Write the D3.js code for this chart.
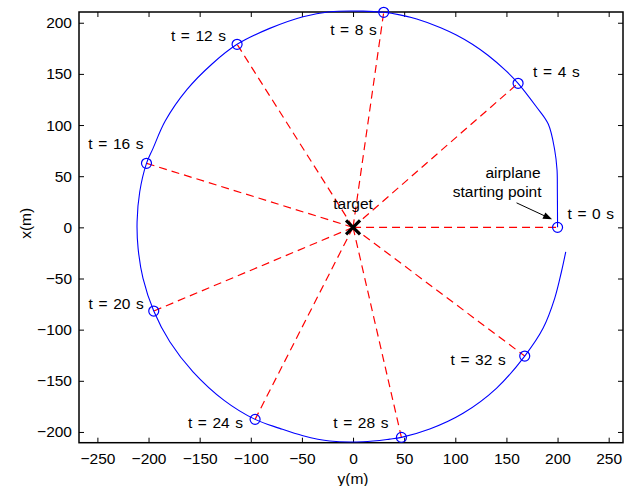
<!DOCTYPE html>
<html>
<head>
<meta charset="utf-8">
<script src="https://cdn.jsdelivr.net/npm/d3@7/dist/d3.min.js"></script>
<style>
  html, body { margin: 0; padding: 0; background: #fff; }
  svg { display: block; }
  text { font-family: "Liberation Sans", Arial, Helvetica, sans-serif; fill: #000; }
</style>
</head>
<body>
<svg id="chart" width="625" height="486"></svg>
<script>
// ---------------- DATA ----------------
// Trajectory samples: horizontal coordinate y(m) and vertical coordinate x(m)
const pathY = [200, 199.8, 199.5, 197.2, 190.9, 178.7, 161.4, 149.4, 131.9, 116.7, 101, 85.7, 62.3, 45.7, 30, 9.8, -22.8, -48.9, -81.5, -113.4, -137.9, -162.3, -183.7, -195.6, -202, -208.6, -211.2, -210.2, -205.4, -194.9, -179.2, -156.5, -126.1, -95.8, -71.7, -48.9, -22.8, 9.8, 35.9, 47.3, 75, 107.6, 140.2, 167.9, 185.8, 197.2, 203.8, 208];
const pathX = [0, 36.5, 56, 75.6, 101, 118.6, 140.8, 153.2, 168.2, 179, 188, 195.2, 203.7, 207.7, 210.2, 211.4, 210.8, 205.9, 194.5, 178.9, 159.7, 134.8, 103.9, 77.2, 62.6, 34.8, 5.5, -20.5, -49.9, -81.8, -111.8, -141.2, -169.1, -187.7, -196.5, -203.7, -208.9, -209.6, -207, -205.3, -197.2, -181.8, -157.4, -125.8, -98.7, -69.4, -43.4, -23.9];

// Sampled positions every 4 s
const sampleT = [0, 4, 8, 12, 16, 20, 24, 28, 32];
const sampleY = [200, 161.4, 30, -113.4, -202, -194.9, -95.8, 47.3, 167.9];
const sampleX = [0, 140.8, 210.2, 178.9, 62.6, -81.8, -187.7, -205.3, -125.8];

// Target location
const targetY = 0;
const targetX = 0;

// Tick labels
const xTicks = [-250, -200, -150, -100, -50, 0, 50, 100, 150, 200, 250];
const yTicks = [-200, -150, -100, -50, 0, 50, 100, 150, 200];

// Axis limits
const xDomain = [-268, 264];
const yDomain = [-210.5, 210.5];

// ---------------- LAYOUT ----------------
const L = 79, R = 623, T = 12, B = 442.7;
const svg = d3.select("#chart");
const sx = d3.scaleLinear().domain(xDomain).range([L, R]);
const sy = d3.scaleLinear().domain(yDomain).range([B, T]);
const FS = 15.5;

// label offsets (px) relative to each sample point
const labelOff = [
  {dx: 10, dy: -14, a: "start"},
  {dx: 15, dy: -12, a: "start"},
  {dx: -7, dy: 17, a: "end"},
  {dx: -11, dy: -9, a: "end"},
  {dx: -3, dy: -20, a: "end"},
  {dx: -10, dy: -8, a: "end"},
  {dx: -12, dy: 3, a: "end"},
  {dx: -13, dy: -15, a: "end"},
  {dx: -19, dy: 3, a: "end"}
];

svg.append("defs").append("clipPath").attr("id", "clip")
  .append("rect").attr("x", L).attr("y", T - 8).attr("width", R - L).attr("height", B - T + 8);

// Axes (ticks inside, MATLAB style)
const tickLen = 5;
const xAxisB = d3.axisBottom(sx).tickValues(xTicks).tickSizeInner(-tickLen).tickSizeOuter(0).tickPadding(10);
const xAxisT = d3.axisTop(sx).tickValues(xTicks).tickSizeInner(-tickLen).tickSizeOuter(0).tickFormat("");
const yAxisL = d3.axisLeft(sy).tickValues(yTicks).tickSizeInner(-tickLen).tickSizeOuter(0).tickPadding(7);
const yAxisR = d3.axisRight(sy).tickValues(yTicks).tickSizeInner(-tickLen).tickSizeOuter(0).tickFormat("");

function styleAxis(g) {
  g.select(".domain").remove();
  g.selectAll(".tick line").attr("stroke", "#000").attr("stroke-width", 1);
  g.selectAll(".tick text").style("font-size", FS + "px").attr("fill", "#000")
    .style("font-family", '"Liberation Sans", Arial, sans-serif');
}
svg.append("g").attr("transform", `translate(0,${B})`).call(xAxisB).call(styleAxis);
svg.append("g").attr("transform", `translate(0,${T})`).call(xAxisT).call(styleAxis);
svg.append("g").attr("transform", `translate(${L},0)`).call(yAxisL).call(styleAxis);
svg.append("g").attr("transform", `translate(${R},0)`).call(yAxisR).call(styleAxis);

// Box
svg.append("rect").attr("x", L).attr("y", T).attr("width", R - L).attr("height", B - T)
  .attr("fill", "none").attr("stroke", "#000").attr("stroke-width", 1.5);

const plot = svg.append("g").attr("clip-path", "url(#clip)");

// Dashed lines from target to samples
plot.selectAll("line.ray").data(sampleT).enter().append("line")
  .attr("class", "ray")
  .attr("x1", sx(targetY)).attr("y1", sy(targetX))
  .attr("x2", (d, i) => sx(sampleY[i])).attr("y2", (d, i) => sy(sampleX[i]))
  .attr("stroke", "#ff0000").attr("stroke-width", 1.2).attr("stroke-dasharray", "8,5");

// Trajectory
const pts = pathY.map((v, i) => [v, pathX[i]]);
plot.append("path").datum(pts)
  .attr("d", d3.line().x(d => sx(d[0])).y(d => sy(d[1])).curve(d3.curveCatmullRom.alpha(0.5)))
  .attr("fill", "none").attr("stroke", "#0000ff").attr("stroke-width", 1.1);

// Sample circles
plot.selectAll("circle.s").data(sampleT).enter().append("circle")
  .attr("class", "s")
  .attr("cx", (d, i) => sx(sampleY[i])).attr("cy", (d, i) => sy(sampleX[i]))
  .attr("r", 5).attr("fill", "none").attr("stroke", "#0000ff").attr("stroke-width", 1.2);

// Target X marker
const tx = sx(targetY), ty = sy(targetX), ms = 7;
svg.append("path")
  .attr("d", `M${tx - ms},${ty - ms}L${tx + ms},${ty + ms}M${tx - ms},${ty + ms}L${tx + ms},${ty - ms}`)
  .attr("stroke", "#000").attr("stroke-width", 3.2).attr("fill", "none");

// Time labels
svg.selectAll("text.tl").data(sampleT).enter().append("text")
  .attr("class", "tl")
  .attr("x", (d, i) => sx(sampleY[i]) + labelOff[i].dx)
  .attr("y", (d, i) => sy(sampleX[i]) + labelOff[i].dy)
  .attr("dy", "0.36em")
  .attr("text-anchor", (d, i) => labelOff[i].a)
  .style("font-size", FS + "px")
  .style("word-spacing", "1.3px")
  .text(d => `t = ${d} s`);

// Target label
svg.append("text").attr("x", tx).attr("y", ty - 24).attr("dy", "0.36em")
  .attr("text-anchor", "middle").style("font-size", FS + "px").text("target");

// Airplane starting point annotation
const sp0x = sx(sampleY[0]), sp0y = sy(sampleX[0]);
svg.append("text").attr("x", sp0x - 17).attr("y", sp0y - 55).attr("dy", "0.36em")
  .attr("text-anchor", "end").style("font-size", FS + "px").text("airplane");
svg.append("text").attr("x", sp0x - 16).attr("y", sp0y - 35.6).attr("dy", "0.36em")
  .attr("text-anchor", "end").style("font-size", FS + "px").text("starting point");

// Arrow
const ax1 = sp0x - 41, ay1 = sp0y - 24.5, ax2 = sp0x - 5.5, ay2 = sp0y - 8;
svg.append("line").attr("x1", ax1).attr("y1", ay1).attr("x2", ax2 - 6).attr("y2", ay2 - 2.8)
  .attr("stroke", "#000").attr("stroke-width", 1);
{
  const ang = Math.atan2(ay2 - ay1, ax2 - ax1);
  const hl = 9, hw = 3.5;
  const bx = ax2 - hl * Math.cos(ang), by = ay2 - hl * Math.sin(ang);
  const px = -Math.sin(ang) * hw, py = Math.cos(ang) * hw;
  svg.append("path")
    .attr("d", `M${ax2},${ay2}L${bx + px},${by + py}L${bx - px},${by - py}Z`)
    .attr("fill", "#000");
}

// Axis titles
svg.append("text").attr("x", sx(0)).attr("y", 484).attr("text-anchor", "middle")
  .style("font-size", FS + "px").text("y(m)");
svg.append("text").attr("transform", `translate(31,${(T + B) / 2 - 4}) rotate(-90)`)
  .attr("text-anchor", "middle").style("font-size", FS + "px").text("x(m)");
</script>
</body>
</html>
